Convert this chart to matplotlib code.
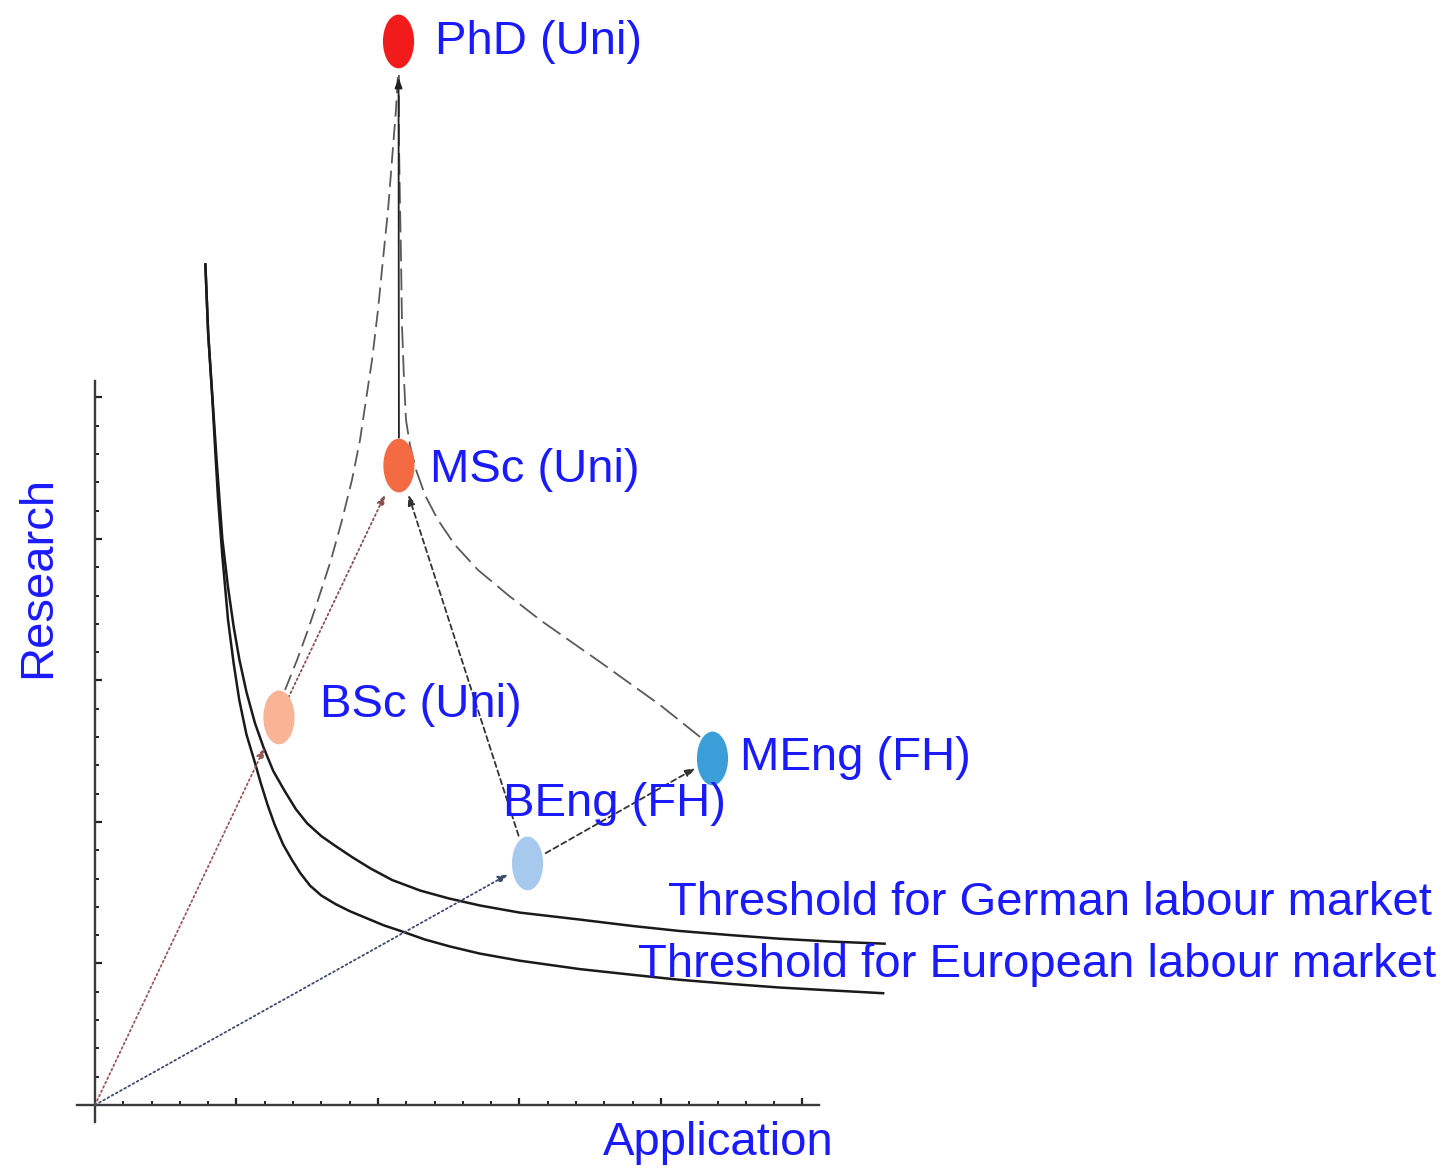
import matplotlib
matplotlib.use("Agg")
import matplotlib.pyplot as plt
from matplotlib.patches import Ellipse
from matplotlib.ticker import FixedLocator

plt.rcParams['font.family'] = ['Liberation Sans', 'DejaVu Sans']

# degree nodes (application, research)
nodes = ['PhD (Uni)', 'MSc (Uni)', 'BSc (Uni)', 'BEng (FH)', 'MEng (FH)']
node_x = [2.145, 2.148, 1.300, 3.057, 4.364]
node_y = [7.516, 4.519, 2.739, 1.707, 2.449]
node_colors = ['#f21b1b', '#f46a42', '#f9b395', '#a8c9ee', '#3c9ed8']

# threshold curves
german_x = [0.78, 0.80, 0.83, 0.86, 0.90, 0.94, 0.98, 1.02, 1.07, 1.13, 1.19, 1.26, 1.34, 1.42,
            1.50, 1.60, 1.70, 1.82, 1.95, 2.10, 2.30, 2.50, 2.72, 3.00, 3.43, 3.80, 4.13, 4.50,
            4.84, 5.20, 5.58]
german_y = [5.94, 5.45, 5.00, 4.55, 4.00, 3.66, 3.38, 3.15, 2.92, 2.70, 2.53, 2.36, 2.22, 2.09,
            1.99, 1.90, 1.83, 1.75, 1.67, 1.59, 1.515, 1.46, 1.41, 1.36, 1.31, 1.265, 1.23, 1.20,
            1.175, 1.155, 1.14]
europe_x = [0.78, 0.80, 0.83, 0.85, 0.87, 0.90, 0.94, 0.98, 1.02, 1.07, 1.13, 1.17, 1.22, 1.27,
            1.33, 1.39, 1.45, 1.52, 1.60, 1.70, 1.80, 1.92, 2.04, 2.16, 2.33, 2.51, 2.72, 3.00,
            3.43, 3.80, 4.13, 4.50, 4.84, 5.20, 5.57]
europe_y = [5.94, 5.45, 4.98, 4.62, 4.28, 3.88, 3.43, 3.12, 2.86, 2.62, 2.42, 2.28, 2.12, 1.98,
            1.84, 1.735, 1.64, 1.55, 1.48, 1.42, 1.37, 1.32, 1.27, 1.23, 1.17, 1.12, 1.07, 1.02,
            0.96, 0.92, 0.885, 0.855, 0.83, 0.81, 0.79]

# dashed paths towards the PhD
left_path_x = [1.343, 1.428, 1.505, 1.576, 1.668, 1.746, 1.816, 1.873, 1.915, 1.958, 2.000,
               2.035, 2.071, 2.099, 2.127, 2.141]
left_path_y = [2.933, 3.145, 3.357, 3.569, 3.852, 4.134, 4.417, 4.700, 4.982, 5.265, 5.618,
               5.972, 6.325, 6.678, 7.032, 7.279]
right_path_x = [4.276, 3.993, 3.569, 3.145, 2.919, 2.707, 2.544, 2.424, 2.332, 2.269, 2.226,
                2.198, 2.184, 2.170, 2.163, 2.155, 2.148, 2.148]
right_path_y = [2.601, 2.827, 3.131, 3.428, 3.604, 3.781, 3.958, 4.134, 4.311, 4.488, 4.664,
                4.841, 5.124, 5.498, 5.972, 6.396, 6.820, 7.279]

# arrows: (from, to, colour, linestyle, shrinkA, shrinkB) -- from/to index into nodes, -1 = origin
arrows = [
    (-1, 2, '#9a5858', ':', 0, 24),
    (-1, 3, '#3c4a6c', ':', 0, 16),
    (2, 1, '#8a5050', ':', 16, 23),
    (3, 1, '#333333', (0, (3, 2)), 21, 22),
    (3, 4, '#333333', (0, (3, 2)), 15, 14),
    (1, 0, '#222222', '-', 20, 26),
]

fig = plt.figure(figsize=(14.46, 11.68), dpi=100)
ax = fig.add_axes([0, 0, 1, 1])
ax.set_xlim(-0.6714, 9.548)
ax.set_ylim(-0.4452, 7.809)

for s in ['top', 'right']:
    ax.spines[s].set_visible(False)
ax.spines['left'].set_position(('data', 0))
ax.spines['bottom'].set_position(('data', 0))
ax.spines['left'].set_bounds(-0.12, 5.12)
ax.spines['bottom'].set_bounds(-0.13, 5.12)
for s in ['left', 'bottom']:
    ax.spines[s].set_color('#3a3a3a')
    ax.spines[s].set_linewidth(1.7)

major = [1, 2, 3, 4, 5]
minor = [i * 0.2 for i in range(1, 26) if i % 5 != 0]
ax.xaxis.set_major_locator(FixedLocator(major))
ax.yaxis.set_major_locator(FixedLocator(major))
ax.xaxis.set_minor_locator(FixedLocator(minor))
ax.yaxis.set_minor_locator(FixedLocator(minor))
ax.tick_params(which='major', direction='in', length=5, width=1.6, color='#222',
               labelbottom=False, labelleft=False)
ax.tick_params(which='minor', direction='in', length=3, width=1.4, color='#222')

# threshold curves
ax.plot(german_x, german_y, color='#1a1a1a', lw=1.8, solid_joinstyle='round')
ax.plot(europe_x, europe_y, color='#1a1a1a', lw=1.8, solid_joinstyle='round')

# dashed curves to the PhD
ax.plot(left_path_x, left_path_y, color='#5a5a5a', lw=1.3, dashes=(9, 4))
ax.plot(right_path_x, right_path_y, color='#5a5a5a', lw=1.3, dashes=(12, 4))

# arrows
for a, b, col, ls, sa, sb in arrows:
    start = (0, 0) if a < 0 else (node_x[a], node_y[a])
    end = (node_x[b], node_y[b])
    ax.annotate('', xy=end, xytext=start,
                arrowprops=dict(arrowstyle='-|>,head_length=0.6,head_width=0.22',
                                color=col, lw=1.3, linestyle=ls,
                                shrinkA=sa, shrinkB=sb), zorder=3)

# nodes
for x, y, c in zip(node_x, node_y, node_colors):
    ax.add_patch(Ellipse((x, y), 0.22, 0.38, facecolor=c, edgecolor='none', zorder=4))

blue = '#1a1aff'
fs = 34
label_pos = [(2.40, 7.43), (2.37, 4.40), (1.59, 2.74), (2.88, 2.04), (4.56, 2.37)]
for name, (x, y) in zip(nodes, label_pos):
    ax.text(x, y, name, color=blue, fontsize=fs, ha='left', va='baseline', zorder=5)

ax.text(9.45, 1.34, 'Threshold for German labour market', color=blue, fontsize=fs,
        ha='right', va='baseline', zorder=5)
ax.text(9.48, 0.905, 'Threshold for European labour market', color=blue, fontsize=fs,
        ha='right', va='baseline', zorder=5)

ax.text(3.59, -0.353, 'Application', color=blue, fontsize=fs, ha='left', va='baseline')
ax.text(-0.40, 3.73, 'Research', color=blue, fontsize=fs, ha='center', va='center', rotation=90)

fig.savefig('out.png', dpi=100)
